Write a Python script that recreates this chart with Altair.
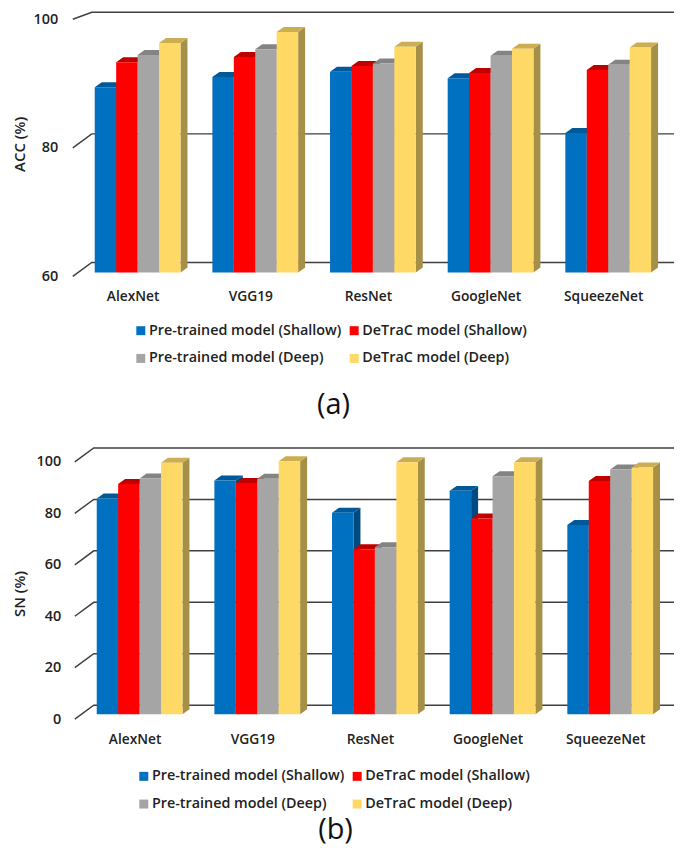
import altair as alt
import pandas as pd

models = ["AlexNet", "VGG19", "ResNet", "GoogleNet", "SqueezeNet"]
series = ["Pre-trained model (Shallow)", "DeTraC model (Shallow)",
          "Pre-trained model (Deep)", "DeTraC model (Deep)"]
front = ["#0070C0", "#FF0000", "#A5A5A5", "#FFD966"]
top_c = ["#005A9A", "#C00000", "#848484", "#CCAE52"]
side_c = ["#004A7F", "#A00000", "#6E6E6E", "#A68F47"]
legend_order = [0, 2, 1, 3]

acc_pre_shallow = [88.8, 90.4, 91.2, 90.2, 81.7]
acc_det_shallow = [92.7, 93.5, 92.1, 91.0, 91.5]
acc_pre_deep = [93.8, 94.7, 92.5, 93.7, 92.3]
acc_det_deep = [95.7, 97.4, 95.1, 94.8, 95.0]

sn_pre_shallow = [83.8, 90.8, 78.3, 86.8, 73.5]
sn_det_shallow = [89.5, 89.9, 64.1, 76.1, 90.6]
sn_pre_deep = [91.6, 91.5, 64.9, 92.5, 95.1]
sn_det_deep = [97.7, 98.3, 97.9, 97.9, 95.9]

FONT = "Open Sans"
STEP = 118.0          # px between model groups
BW = 21.5 / STEP      # bar width in group units
DX = 7 / STEP         # bar depth, horizontal
ORIGIN_X = 71
RIGHT_X = 676


def panel(vals, ticks, ymin, ppu, height, centre0, wall0, plane_px, ytitle, title_x,
          title_y, lab_pad, x_pad, leg_x, leg_y, caption, cap_y, cap_x):
    width = RIGHT_X - ORIGIN_X
    x_lo = (ORIGIN_X - centre0) / STEP
    x_hi = (RIGHT_X - centre0) / STEP
    ymax = ymin + height / ppu
    xs = alt.Scale(domain=[x_lo, x_hi], nice=False, zero=False)
    ys = alt.Scale(domain=[ymin, ymax], nice=False, zero=False, clamp=True)
    plane = plane_px / ppu
    dv = 5 / ppu
    wall_dv = 14 / ppu

    wx0 = (wall0 - centre0) / STEP
    wx1 = (wall0 + 19 - centre0) / STEP
    rows = []
    for t in ticks:
        rows += [dict(t=t, x=wx0, y=t), dict(t=t, x=wx1, y=t + wall_dv),
                 dict(t=t, x=x_hi, y=t + wall_dv)]
    grid = alt.Chart(pd.DataFrame(rows)).mark_line(color="#404040", strokeWidth=1.5).encode(
        x=alt.X("x:Q", scale=xs, title=caption,
                axis=alt.Axis(values=list(range(5)), grid=False, domain=False, ticks=False,
                              labelExpr=f"{models}[datum.value]",
                              labelFont=FONT, labelFontSize=13.8, labelFontWeight=600,
                              labelColor="#222222", labelOffset=-5, labelPadding=x_pad,
                              labelAngle=0, titleFont=FONT, titleFontSize=29,
                              titleFontWeight=400, titleColor="#111111",
                              titleX=cap_x - ORIGIN_X, titleY=cap_y)),
        y=alt.Y("y:Q", scale=ys, title=ytitle,
                axis=alt.Axis(values=ticks, grid=False, domain=False, ticks=False,
                              labelFont=FONT, labelFontSize=14.5, labelFontWeight=600,
                              labelColor="#222222", labelPadding=lab_pad,
                              titleFont=FONT, titleFontSize=15, titleFontWeight=600,
                              titleColor="#222222", titleX=title_x, titleY=title_y)),
        detail="t:N",
    )
    layers = [grid]
    for k, name in enumerate(series):
        f, s, t = [], [], []
        for i, v in enumerate(vals[k]):
            x0 = i + (k - 2) * BW
            x1 = x0 + BW
            top = v + plane
            base = ymin + plane
            f.append(dict(series=name, x=x0, x2=x1, y=top, y2=base))
            s += [dict(g=i, x=x1, y=top, y2=base), dict(g=i, x=x1 + DX, y=top + dv, y2=base + dv)]
            t += [dict(g=i, x=x0, y=top, y2=top), dict(g=i, x=x0 + DX, y=top + dv, y2=top),
                  dict(g=i, x=x1, y=top + dv, y2=top), dict(g=i, x=x1 + DX, y=top + dv, y2=top + dv)]
        for rowset, col in ((s, side_c[k]), (t, top_c[k])):
            layers.append(alt.Chart(pd.DataFrame(rowset)).mark_area(color=col, opacity=1).encode(
                x=alt.X("x:Q", scale=xs), y=alt.Y("y:Q", scale=ys), y2="y2:Q", detail="g:N"))
        layers.append(alt.Chart(pd.DataFrame(f)).mark_rect().encode(
            x=alt.X("x:Q", scale=xs), x2="x2:Q",
            y=alt.Y("y:Q", scale=ys), y2="y2:Q",
            color=alt.Color("series:N",
                            scale=alt.Scale(domain=[series[j] for j in legend_order],
                                            range=[front[j] for j in legend_order]),
                            legend=alt.Legend(orient="none", legendX=leg_x - ORIGIN_X, legendY=leg_y,
                                              columns=2, title=None, symbolType="square",
                                              symbolSize=81, symbolStrokeWidth=0,
                                              labelFont=FONT, labelFontSize=14.4,
                                              labelFontWeight=600, labelColor="#222222",
                                              labelLimit=320, rowPadding=13,
                                              columnPadding=5, labelOffset=1))))
    return alt.layer(*layers).properties(width=width, height=height)


a = panel([acc_pre_shallow, acc_det_shallow, acc_pre_deep, acc_det_deep],
          [60, 80, 100], 60, 6.45, 265, 138, 73, 4, "ACC (%)", -43, 132, 13, 13,
          134, 312, "(a)", 114, 334)
b = panel([sn_pre_shallow, sn_det_shallow, sn_pre_deep, sn_det_deep],
          [0, 20, 40, 60, 80, 100], 0, 2.58, 277, 140, 75, 5, "SN (%)", -43, 151, 10, 13,
          137, 327, "(b)", 97, 336)

chart = alt.vconcat(a, b, bounds="flush", spacing=167).resolve_scale(
    color="independent").resolve_legend(color="independent").properties(
    padding={"left": 5, "top": 0, "right": 0, "bottom": 0}).configure_view(stroke=None)

chart.save("out.html", embed_options={"renderer": "svg", "actions": False})
